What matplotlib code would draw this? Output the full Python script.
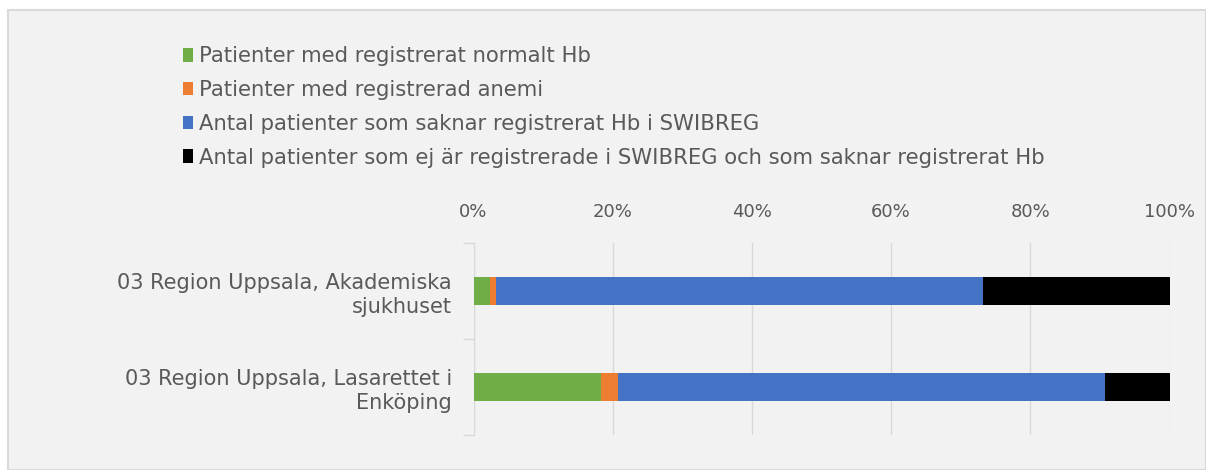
import matplotlib.pyplot as plt
from matplotlib.patches import Rectangle, Patch
from matplotlib.ticker import PercentFormatter

plt.rcParams['font.family'] = ['DejaVu Sans']

categories = ["03 Region Uppsala, Akademiska\nsjukhuset",
              "03 Region Uppsala, Lasarettet i\nEnköping"]
series = ["Patienter med registrerat normalt Hb",
          "Patienter med registrerad anemi",
          "Antal patienter som saknar registrerat Hb i SWIBREG",
          "Antal patienter som ej är registrerade i SWIBREG och som saknar registrerat Hb"]
normal_hb = [2.3, 18.3]
anemi = [0.9, 2.4]
saknar_hb = [70.0, 70.0]
ej_reg = [26.8, 9.3]
colors = ["#70ad47", "#ed7d31", "#4472c4", "#000000"]

fig = plt.figure(figsize=(12.06, 4.70), dpi=100)
fig.patch.set_facecolor("white")
fig.patches.append(Rectangle((8 / 1206, 0), 1 - 8 / 1206, 1 - 10 / 470,
                             transform=fig.transFigure, facecolor="#f2f2f2",
                             edgecolor="#d9d9d9", linewidth=1.5, zorder=-10))

ax = fig.add_axes([473.5 / 1206, 1 - 435 / 470, 696 / 1206, 192 / 470])
ax.set_facecolor("none")

text_color = "#595959"
left = [0, 0]
for vals, col in zip([normal_hb, anemi, saknar_hb, ej_reg], colors):
    ax.barh(range(len(categories)), vals, left=left, height=0.3, color=col, zorder=3)
    left = [a + b for a, b in zip(left, vals)]

ax.set_xlim(0, 100)
ax.set_ylim(1.5, -0.5)
ax.xaxis.tick_top()
ax.set_xticks([0, 20, 40, 60, 80, 100])
ax.xaxis.set_major_formatter(PercentFormatter(decimals=0))
ax.tick_params(axis="x", length=0, pad=15.5, labelsize=13, labelcolor=text_color)
ax.grid(axis="x", color="#d9d9d9", linewidth=1, zorder=0)

ax.set_yticks(range(len(categories)))
ax.set_yticklabels(categories, fontsize=15, color=text_color, linespacing=1.25)
ax.tick_params(axis="y", which="major", length=0, pad=15.5)
ax.set_yticks([-0.5, 0.5, 1.5], minor=True)
ax.tick_params(axis="y", which="minor", length=8, color="#d9d9d9", width=1)

for s in ["top", "right", "bottom"]:
    ax.spines[s].set_visible(False)
ax.spines["left"].set_color("#d9d9d9")

handles = [Patch(facecolor=c) for c in colors]
fig.legend(handles, series, loc="upper left", bbox_to_anchor=(175 / 1206, 1 - 38 / 470),
           frameon=False, fontsize=15.2, labelcolor=text_color, handlelength=0.45,
           handleheight=0.6, handletextpad=0.3, labelspacing=0.65, borderaxespad=0)

fig.savefig("out.png", dpi=100)
